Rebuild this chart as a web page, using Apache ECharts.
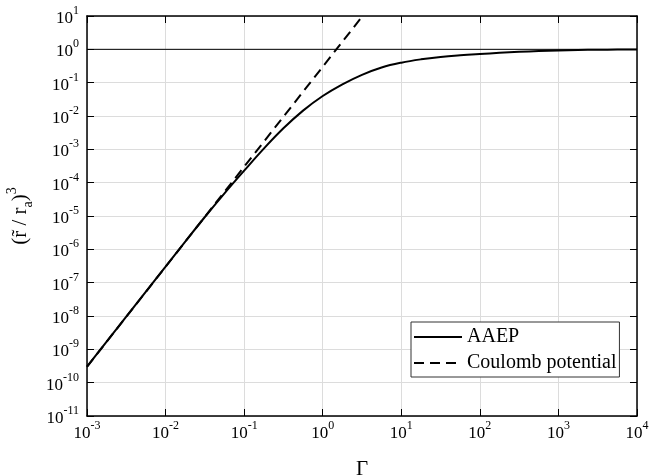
<!DOCTYPE html>
<html>
<head>
<meta charset="utf-8">
<script src="https://cdn.jsdelivr.net/npm/echarts@6/dist/echarts.min.js"></script>
<style>html,body{margin:0;padding:0;background:#fff;}#c{width:649px;height:476px;}</style>
</head>
<body>
<div id="c"></div>
<script>
// Data
const gammaAAEP = [0.001, 0.00316, 0.01, 0.0178, 0.0316, 0.0562, 0.1, 0.178, 0.316, 0.562, 1, 1.78, 3.16, 5.62, 10, 17.8, 31.6, 56.2, 100, 178, 316, 562, 1000, 1780, 3160, 5620, 10000];
const valuesAAEP = [3.02e-10, 9.55e-9, 3.02e-7, 1.70e-6, 9.33e-6, 4.79e-5, 2.29e-4, 1.05e-3, 4.27e-3, 1.45e-2, 3.98e-2, 8.91e-2, 0.172, 0.285, 0.398, 0.501, 0.589, 0.661, 0.724, 0.785, 0.841, 0.891, 0.929, 0.955, 0.973, 0.984, 0.991];
const gammaCoulomb = [0.001, 0.01, 0.1, 1, 3.3];
const valuesCoulomb = [3.0e-10, 3.0e-7, 3.0e-4, 0.3, 10.8];
const refGamma = [0.001, 10000];
const refValues = [1, 1];
const seriesNames = ['AAEP', 'Coulomb potential'];
const xLimits = [1e-3, 1e4];
const yLimits = [1e-11, 1e1];

const FONT = 'Liberation Serif';
const pair = (xs, ys) => xs.map((x, i) => [x, ys[i]]);
const powLabel = v => '{b|10}{s|' + Math.round(Math.log10(v)) + '}';
const labelRich = {
  b: { fontFamily: FONT, fontSize: 17, color: '#000', lineHeight: 22, verticalAlign: 'bottom' },
  s: { fontFamily: FONT, fontSize: 12, color: '#000', lineHeight: 12, verticalAlign: 'top' }
};
const frameLine = { show: true, onZero: false, lineStyle: { color: '#000', width: 1.5 } };
const tick = { show: true, inside: true, length: 7, lineStyle: { color: '#000', width: 1 } };
const grid = { show: true, lineStyle: { color: '#dcdcdc', width: 1 } };

const chart = echarts.init(document.getElementById('c'), null, { renderer: 'canvas' });
chart.setOption({
  animation: false,
  backgroundColor: '#fff',
  grid: { left: 87, top: 16, right: 12, bottom: 60, containLabel: false, outerBoundsMode: 'none' },
  xAxis: [
    { type: 'log', logBase: 10, min: xLimits[0], max: xLimits[1], interval: 1,
      axisLine: frameLine, axisTick: tick, splitLine: grid, minorTick: { show: false },
      axisLabel: { formatter: powLabel, rich: labelRich, margin: 4 },
      name: 'Γ', nameLocation: 'middle', nameGap: 43,
      nameTextStyle: { fontFamily: FONT, fontSize: 21, color: '#000' } },
    { type: 'log', logBase: 10, min: xLimits[0], max: xLimits[1], interval: 1, position: 'top',
      axisLine: frameLine, axisTick: tick, splitLine: { show: false }, axisLabel: { show: false } }
  ],
  yAxis: [
    { type: 'log', logBase: 10, min: yLimits[0], max: yLimits[1], interval: 1,
      axisLine: frameLine, axisTick: tick, splitLine: grid, minorTick: { show: false },
      axisLabel: { formatter: powLabel, rich: labelRich, margin: 8 },
      name: '{b|(r̃ / r}{sub|a}{b|)}{sup|3}', nameLocation: 'middle', nameGap: 48, nameRotate: 90,
      nameTextStyle: { rich: {
        b: { fontFamily: FONT, fontSize: 21, color: '#000', lineHeight: 30, verticalAlign: 'middle' },
        sub: { fontFamily: FONT, fontSize: 14, color: '#000', lineHeight: 14, verticalAlign: 'bottom' },
        sup: { fontFamily: FONT, fontSize: 14, color: '#000', lineHeight: 14, verticalAlign: 'top' }
      } } },
    { type: 'log', logBase: 10, min: yLimits[0], max: yLimits[1], interval: 1, position: 'right',
      axisLine: frameLine, axisTick: tick, splitLine: { show: false }, axisLabel: { show: false } }
  ],
  legend: {
    data: seriesNames,
    orient: 'vertical', left: 411, top: 322,
    padding: [4, 3, 3, 2], itemGap: 4, itemWidth: 48, itemHeight: 14,
    itemStyle: { opacity: 0 },
    backgroundColor: '#fff', borderColor: '#333', borderWidth: 1, borderRadius: 0,
    textStyle: { fontFamily: FONT, fontSize: 20, color: '#000', lineHeight: 22 }
  },
  series: [
    { name: 'ref', type: 'line', data: pair(refGamma, refValues), symbol: 'none', silent: true,
      lineStyle: { color: '#000', width: 1 }, z: 3 },
    { name: seriesNames[0], type: 'line', data: pair(gammaAAEP, valuesAAEP), symbol: 'none', smooth: 0.4,
      lineStyle: { color: '#000', width: 2, type: 'solid' }, itemStyle: { color: '#000' }, z: 4 },
    { name: seriesNames[1], type: 'line', data: pair(gammaCoulomb, valuesCoulomb), symbol: 'none',
      lineStyle: { color: '#000', width: 2, type: [10, 6] }, itemStyle: { color: '#000' }, z: 4 }
  ]
});
</script>
</body>
</html>
